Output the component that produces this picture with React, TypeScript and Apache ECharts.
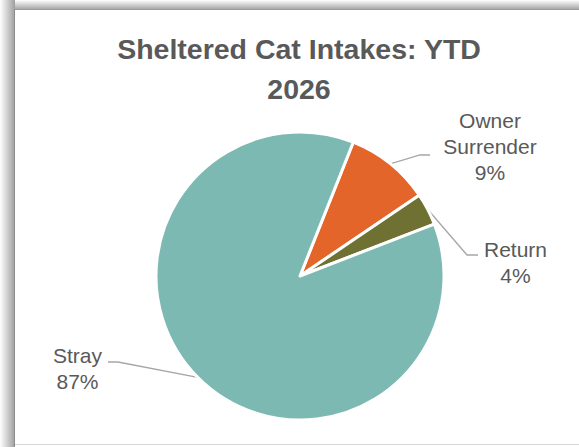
import React, { useEffect, useRef } from 'react';
import * as echarts from 'echarts';

// ---- data ----
const categories = ['Owner Surrender', 'Return', 'Stray'];
const values = [9.5, 3.6, 86.9];
const colors = ['#E3652A', '#6E7131', '#7DB9B3'];
const titleText = 'Sheltered Cat Intakes: YTD\n2026';

// ---- label layout (positions only) ----
const LABEL_LAYOUT = [
  { x: 490, y: 146.7, elbowX: 420, endX: 430, lineY: 155 },
  { x: 515.5, y: 262.7, elbowX: 467, endX: 478, lineY: 255 },
  { x: 77.5, y: 368.7, elbowX: 118, endX: 108, lineY: 362 },
];

const PIE_CENTER = [300, 276];
const PIE_RADIUS = 144;
const START_ANGLE = 68.3;

export default function App() {
  const ref = useRef<HTMLDivElement>(null);
  useEffect(() => {
    document.body.style.margin = '0';
    const chart = echarts.init(ref.current!, undefined, { renderer: 'svg' });
    const total = values.reduce((a, b) => a + b, 0);
    chart.setOption({
      animation: false,
      graphic: [
        { type: 'rect', z: -10, shape: { x: 0, y: 0, width: 579, height: 447 }, style: { fill: '#ffffff' } },
        {
          type: 'rect', z: -9, shape: { x: 0, y: 0, width: 15, height: 447 },
          style: { fill: new echarts.graphic.LinearGradient(0, 0, 1, 0, [
            { offset: 0, color: 'rgba(0,0,0,0)' }, { offset: 1, color: 'rgba(0,0,0,0.38)' }]) },
        },
        {
          type: 'rect', z: -9, shape: { x: 15, y: 0, width: 564, height: 10 },
          style: { fill: new echarts.graphic.LinearGradient(0, 0, 0, 1, [
            { offset: 0, color: 'rgba(0,0,0,0)' }, { offset: 1, color: 'rgba(0,0,0,0.38)' }]) },
        },
        { type: 'rect', z: -8, shape: { x: 15, y: 10, width: 600, height: 435 }, style: { fill: '#ffffff' } },
        { type: 'line', z: -7, shape: { x1: 14.5, y1: 9.5, x2: 14.5, y2: 447 }, style: { stroke: '#8c8c8c', lineWidth: 1 } },
        { type: 'line', z: -7, shape: { x1: 14.5, y1: 9.5, x2: 579, y2: 9.5 }, style: { stroke: '#9a9a9a', lineWidth: 1 } },
        { type: 'line', z: -7, shape: { x1: 15, y1: 444.5, x2: 579, y2: 444.5 }, style: { stroke: '#d6d6d6', lineWidth: 1 } },
      ],
      title: {
        text: titleText,
        left: 299,
        top: 29,
        textAlign: 'center',
        padding: 0,
        textStyle: {
          fontFamily: 'Liberation Sans',
          fontWeight: 'bold',
          fontSize: 28.5,
          lineHeight: 40,
          color: '#595959',
        },
      },
      series: [
        {
          type: 'pie',
          center: PIE_CENTER,
          radius: PIE_RADIUS,
          startAngle: START_ANGLE,
          clockwise: true,
          avoidLabelOverlap: false,
          percentPrecision: 0,
          itemStyle: { borderColor: '#ffffff', borderWidth: 3 },
          label: {
            show: true,
            position: 'outside',
            formatter: (p: any) => `${p.name.replace(' ', '\n')}\n${p.percent}%`,
            fontFamily: 'Liberation Sans',
            fontSize: 21,
            lineHeight: 26,
            color: '#595959',
            align: 'center',
          },
          labelLine: { show: true, lineStyle: { color: '#a6a6a6', width: 1.3 } },
          labelLayout: (params: any) => {
            const L = LABEL_LAYOUT[params.dataIndex];
            let p0 = params.labelLinePoints && params.labelLinePoints[0];
            if (!p0) {
              let acc = 0;
              for (let i = 0; i < params.dataIndex; i++) acc += values[i];
              const mid = ((acc + values[params.dataIndex] / 2) / total) * 360;
              const a = ((90 - START_ANGLE + mid) * Math.PI) / 180;
              p0 = [PIE_CENTER[0] + PIE_RADIUS * Math.sin(a), PIE_CENTER[1] - PIE_RADIUS * Math.cos(a)];
            }
            return {
              x: L.x,
              y: L.y,
              align: 'center',
              verticalAlign: 'middle',
              labelLinePoints: [p0, [L.elbowX, L.lineY], [L.endX, L.lineY]],
            };
          },
          emphasis: { disabled: true },
          data: categories.map((name, i) => ({ name, value: values[i], itemStyle: { color: colors[i] } })),
        },
      ],
    });
    return () => chart.dispose();
  }, []);
  return <div ref={ref} style={{ width: 579, height: 447 }} />;
}
